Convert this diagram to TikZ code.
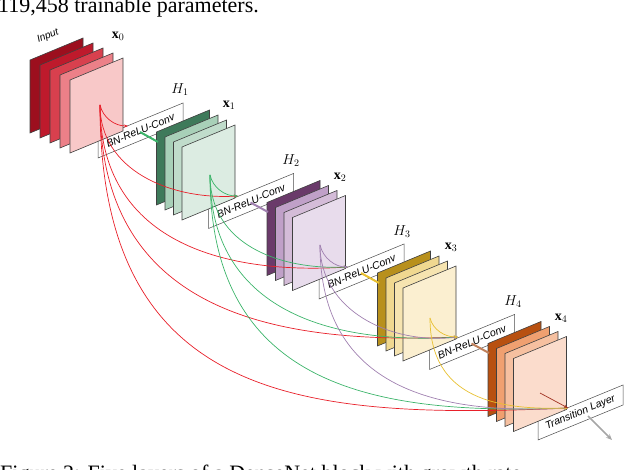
\documentclass[tikz,border=0pt]{standalone}
\usepackage{fontspec}
\setmainfont{Liberation Serif}
\newfontfamily\lsans{Liberation Sans}
\usetikzlibrary{arrows.meta}
\definecolor{r0}{HTML}{9C0F1E}\definecolor{r1}{HTML}{BE1A2C}\definecolor{r2}{HTML}{D8404E}\definecolor{r3}{HTML}{EC8088}\definecolor{r4}{HTML}{F8C8C8}
\definecolor{g0}{HTML}{3E7A5A}\definecolor{g1}{HTML}{A8D0B8}\definecolor{g2}{HTML}{C0DCCB}\definecolor{g3}{HTML}{DCECE2}
\definecolor{p0}{HTML}{6A3A6A}\definecolor{p1}{HTML}{C0A0C8}\definecolor{p2}{HTML}{D4BCD8}\definecolor{p3}{HTML}{E8DCEC}
\definecolor{y0}{HTML}{B8901C}\definecolor{y1}{HTML}{F0D890}\definecolor{y2}{HTML}{F6E4B0}\definecolor{y3}{HTML}{FBEFD0}
\definecolor{o0}{HTML}{B85010}\definecolor{o1}{HTML}{F0A070}\definecolor{o2}{HTML}{F6C0A0}\definecolor{o3}{HTML}{FBDCCC}
\definecolor{cred}{HTML}{E8202A}\definecolor{cgreen}{HTML}{3CB46A}\definecolor{cpurple}{HTML}{A080B0}\definecolor{cyellow}{HTML}{E8C030}\definecolor{cbrown}{HTML}{A03020}
\tikzset{
 sheetline/.style={draw=black!75,line width=0.6pt},
 boxline/.style={draw=black!70,fill=white,line width=0.5pt},
 boxtext/.style={font=\lsans\itshape\fontsize{10.5}{10.5}\selectfont,rotate=22.5,inner sep=0pt},
 xlab/.style={font=\bfseries\fontsize{14}{14}\selectfont},
 hlab/.style={font=\itshape\fontsize{14}{14}\selectfont},
 skip/.style={line width=0.7pt,-{Stealth[length=4pt,width=3pt]}},
 feed/.style={line width=2pt},
}
\newcommand{\mysheet}[3]{\filldraw[sheetline,fill=#3] (#1,#2) -- ++(53,-22) -- ++(0,73) -- ++(-53,22) -- cycle;}
\newcommand{\mybox}[4]{\filldraw[boxline] (#1,#2) -- ++(85,-35) -- ++(0,20) -- ++(-85,35) -- cycle;
 \node[boxtext] (#3) at (#1+42.5,#2-7.5) {#4};}
\begin{document}
\begin{tikzpicture}[x=1pt,y=-1pt]
\useasboundingbox (0,0) rectangle (638,470);
\clip (0,0) rectangle (638,470);
\node[anchor=base west,inner sep=0pt,font=\fontsize{22}{22}\selectfont] (cap1) at (-2,13) {119,458 trainable parameters.};
\node[anchor=base west,inner sep=0pt,font=\fontsize{22}{22}\selectfont] (cap2) at (0,481) {Figure 2: Five layers of a DenseNet block with growth rate};
\mybox{98}{138}{h1}{BN-ReLU-Conv}
\mybox{208.5}{208.5}{h2}{BN-ReLU-Conv}
\mybox{319}{279}{h3}{BN-ReLU-Conv}
\mybox{429.5}{349.5}{h4}{BN-ReLU-Conv}
\mybox{538}{420}{tl}{Transition Layer}
\mysheet{30}{60}{r0}\mysheet{40}{65}{r1}\mysheet{50}{70}{r2}\mysheet{60}{75}{r3}\mysheet{70}{80}{r4}
\mysheet{156.5}{132}{g0}\mysheet{165}{137}{g1}\mysheet{173.5}{142}{g2}\mysheet{182}{147}{g3}
\mysheet{267}{202.5}{p0}\mysheet{275.5}{207.5}{p1}\mysheet{284}{212.5}{p2}\mysheet{292.5}{217.5}{p3}
\mysheet{377.5}{273}{y0}\mysheet{386}{278}{y1}\mysheet{394.5}{283}{y2}\mysheet{403}{288}{y3}
\mysheet{488}{343.5}{o0}\mysheet{496.5}{348.5}{o1}\mysheet{505}{353.5}{o2}\mysheet{513.5}{358.5}{o3}
\node[font=\lsans\itshape\fontsize{10}{10}\selectfont,rotate=22.5] (inp) at (48,36) {Input};
\node[xlab] (lx0) at (118,36) {$\mathbf{x}_0$};
\node[xlab] (lx1) at (229,105) {$\mathbf{x}_1$};
\node[xlab] (lx2) at (340,177) {$\mathbf{x}_2$};
\node[xlab] (lx3) at (451,247) {$\mathbf{x}_3$};
\node[xlab] (lx4) at (561,318) {$\mathbf{x}_4$};
\node[hlab] (lh1) at (180,90) {$H_1$};
\node[hlab] (lh2) at (291,161) {$H_2$};
\node[hlab] (lh3) at (402,232) {$H_3$};
\node[hlab] (lh4) at (513,302) {$H_4$};
\coordinate (c0) at (100,105);\coordinate (c1) at (210,175);\coordinate (c2) at (320,245);
\coordinate (c3) at (430,318);\coordinate (c4) at (540,393);
\coordinate (e1) at (128,126);\coordinate (e2) at (238,196);\coordinate (e3) at (348,267);
\coordinate (e4) at (458,337);\coordinate (e5) at (568,408);
\coordinate (f1a) at (140,132);\coordinate (f1b) at (158,142);
\coordinate (f2a) at (250.5,202.5);\coordinate (f2b) at (268,212);
\coordinate (f3a) at (361,273);\coordinate (f3b) at (379,283);
\coordinate (f4a) at (471.5,343.5);\coordinate (f4b) at (489,353);
\coordinate (t1) at (588,416);\coordinate (t2) at (612,440);
\draw[feed,color=cgreen] (f1a) -- (f1b);
\draw[feed,color=cpurple] (f2a) -- (f2b);
\draw[feed,color=cyellow] (f3a) -- (f3b);
\draw[feed,color=o1!80!black] (f4a) -- (f4b);
\draw[line width=1.6pt,gray!70,-{Stealth[length=6pt,width=5pt]}] (t1) -- (t2);
\draw[skip,cred] (c0) .. controls (103,118) and (115,126) .. (e1);
\draw[skip,cred] (c0) .. controls (100,170) and (170,200) .. (e2);
\draw[skip,cred] (c0) .. controls (100,240) and (220,275) .. (e3);
\draw[skip,cred] (c0) .. controls (100,310) and (270,345) .. (e4);
\draw[skip,cred] (c0) .. controls (100,400) and (300,420) .. (e5);
\draw[skip,cgreen] (c1) .. controls (213,188) and (225,196) .. (e2);
\draw[skip,cgreen] (c1) .. controls (210,245) and (280,270) .. (e3);
\draw[skip,cgreen] (c1) .. controls (210,310) and (330,345) .. (e4);
\draw[skip,cgreen] (c1) .. controls (210,390) and (380,415) .. (e5);
\draw[skip,cpurple] (c2) .. controls (323,258) and (335,267) .. (e3);
\draw[skip,cpurple] (c2) .. controls (320,310) and (390,345) .. (e4);
\draw[skip,cpurple] (c2) .. controls (320,390) and (440,415) .. (e5);
\draw[skip,cyellow] (c3) .. controls (433,330) and (445,337) .. (e4);
\draw[skip,cyellow] (c3) .. controls (430,400) and (500,410) .. (e5);
\draw[skip,cbrown] (c4) -- (e5);
\end{tikzpicture}
\end{document}
